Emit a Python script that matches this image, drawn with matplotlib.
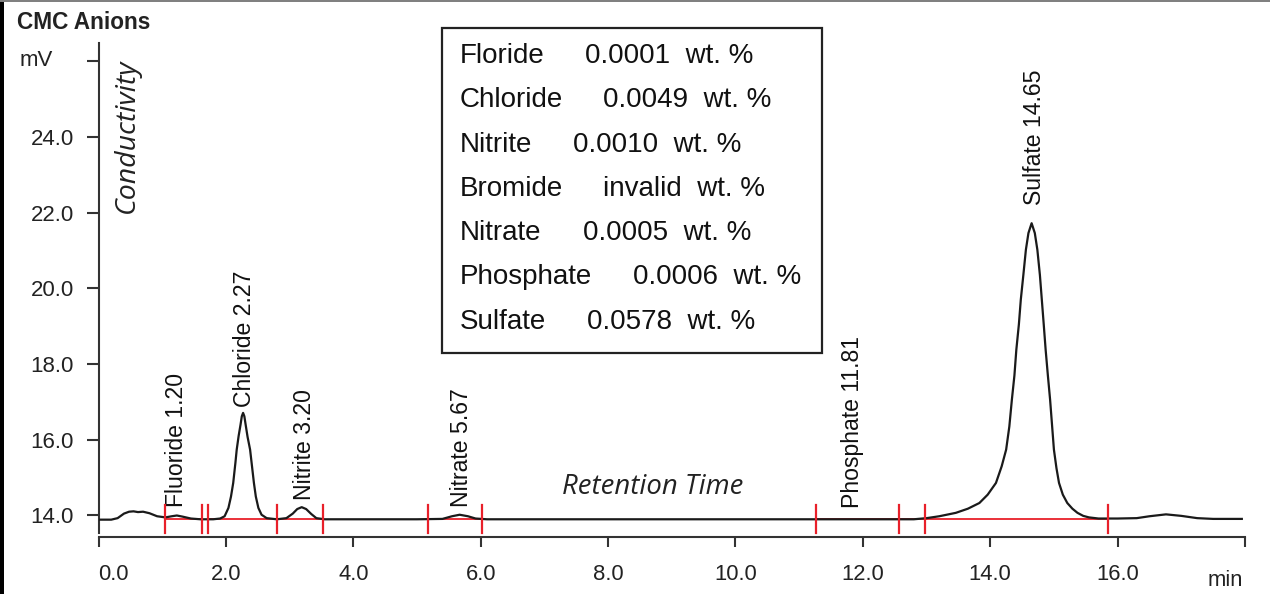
import matplotlib
matplotlib.use('Agg')
import matplotlib.pyplot as plt
from matplotlib.patches import Rectangle

plt.rcParams['font.family'] = ['Liberation Sans', 'DejaVu Sans']

# Chromatogram trace (min, mV)
trace_time = [
    0.00, 0.20, 0.30, 0.40, 0.48, 0.55, 0.62, 0.70, 0.80, 0.92,
    1.05, 1.15, 1.23, 1.32, 1.45, 1.60, 1.80, 1.91, 1.98, 2.04,
    2.08, 2.115, 2.15, 2.17, 2.20, 2.23, 2.25, 2.27, 2.29, 2.31,
    2.34, 2.38, 2.41, 2.44, 2.47, 2.51, 2.56, 2.64, 2.80, 2.95,
    3.05, 3.12, 3.19, 3.26, 3.34, 3.42, 3.55, 5.00, 5.40, 5.55,
    5.67, 5.80, 5.92, 6.10, 12.80, 13.00, 13.20, 13.46, 13.65, 13.83,
    13.96, 14.09, 14.18, 14.25, 14.30, 14.34, 14.38, 14.41, 14.45, 14.48,
    14.52, 14.56, 14.60, 14.65, 14.70, 14.74, 14.78, 14.81, 14.84, 14.87,
    14.905, 14.94, 14.97, 15.00, 15.04, 15.08, 15.14, 15.21, 15.29, 15.37,
    15.46, 15.55, 15.70, 16.00, 16.30, 16.50, 16.76, 17.00, 17.25, 17.50,
    17.95,
]
trace_mv = [
    13.89, 13.89, 13.93, 14.05, 14.10, 14.11, 14.09, 14.10, 14.06, 13.98,
    13.95, 13.98, 14.00, 13.97, 13.92, 13.90, 13.90, 13.92, 13.98, 14.20,
    14.50, 14.86, 15.40, 15.74, 16.10, 16.40, 16.62, 16.71, 16.62, 16.40,
    16.08, 15.74, 15.30, 14.86, 14.50, 14.20, 14.02, 13.93, 13.90, 13.93,
    14.05, 14.17, 14.22, 14.17, 14.04, 13.93, 13.90, 13.90, 13.91, 13.98,
    14.02, 13.98, 13.92, 13.90, 13.90, 13.93, 13.98, 14.07, 14.18, 14.33,
    14.55, 14.86, 15.30, 15.74, 16.35, 17.06, 17.70, 18.38, 19.05, 19.70,
    20.35, 21.02, 21.46, 21.72, 21.46, 21.02, 20.35, 19.70, 19.05, 18.38,
    17.70, 17.06, 16.40, 15.74, 15.25, 14.86, 14.55, 14.33, 14.18, 14.07,
    13.99, 13.95, 13.92, 13.92, 13.93, 13.98, 14.03, 13.99, 13.93, 13.91,
    13.91,
]

# integration baseline marks (red)
mark_times = [1.05, 1.63, 1.72, 2.80, 3.53, 5.18, 6.02, 11.26, 12.56, 12.98, 15.85]
baseline_segments = [(1.05, 1.63), (1.72, 2.80), (2.80, 3.53), (5.18, 6.02),
                     (11.26, 12.56), (12.56, 12.98), (12.98, 15.85)]
baseline_mv = 13.90

# peak labels
peak_labels = ['Fluoride 1.20', 'Chloride 2.27', 'Nitrite 3.20', 'Nitrate 5.67',
               'Phosphate 11.81', 'Sulfate 14.65']
peak_label_x = [1.22, 2.30, 3.24, 5.70, 11.84, 14.70]
peak_label_y = [14.22, 16.87, 14.41, 14.23, 14.20, 22.20]

# results box
box_names = ['Floride', 'Chloride', 'Nitrite', 'Bromide', 'Nitrate', 'Phosphate', 'Sulfate']
box_values = ['0.0001', '0.0049', '0.0010', 'invalid', '0.0005', '0.0006', '0.0578']
box_value_px = [585, 603, 573, 603, 583, 633, 587]

x_ticks = [0, 2, 4, 6, 8, 10, 12, 14, 16, 18]
x_tick_labels = ['0.0', '2.0', '4.0', '6.0', '8.0', '10.0', '12.0', '14.0', '16.0', '']
y_ticks = [14, 16, 18, 20, 22, 24, 26]
y_tick_labels = ['14.0', '16.0', '18.0', '20.0', '22.0', '24.0', '']

W, H = 1270, 594
fig = plt.figure(figsize=(12.7, 5.94), dpi=100)
ax = fig.add_axes([98.5 / W, 57 / H, (1245 - 98.5) / W, 494 / H])

axis_col = '#333333'
ax.plot(trace_time, trace_mv, color='#1a1a1a', lw=1.6, zorder=3,
        solid_joinstyle='round')

for t0, t1 in baseline_segments:
    ax.plot([t0, t1], [baseline_mv, baseline_mv], color='#e8202a', lw=1.3, zorder=2)
for t in mark_times:
    ax.plot([t, t], [13.54, 14.28], color='#e8202a', lw=1.6, zorder=4)

for lab, lx, ly in zip(peak_labels, peak_label_x, peak_label_y):
    ax.text(lx, ly, lab, rotation=90, ha='center', va='bottom', fontsize=16.6, color='#111111')

ax.set_xlim(0, 18)
ax.set_ylim(13.432, 26.48)
ax.set_xticks(x_ticks)
ax.set_xticklabels(x_tick_labels)
ax.set_yticks(y_ticks)
ax.set_yticklabels(y_tick_labels)
ax.xaxis.get_majorticklabels()[0].set_horizontalalignment('left')

for s in ['top', 'right']:
    ax.spines[s].set_visible(False)
for s in ['left', 'bottom']:
    ax.spines[s].set_linewidth(1.5)
    ax.spines[s].set_color(axis_col)
ax.spines['left'].set_bounds(13.55, 26.48)
ax.tick_params(axis='x', direction='out', length=7.5, width=1.5, color=axis_col,
               labelsize=15.8, pad=12, labelcolor='#222222')
ax.tick_params(axis='y', direction='out', length=8.6, width=1.5, color=axis_col,
               labelsize=16, pad=9, labelcolor='#222222')

ax.text(0.45, 24.03, 'Conductivity', rotation=90, ha='center', va='center',
        family='Open Sans', style='italic', fontsize=20.5, color='#222222')
ax.text(8.70, 14.75, 'Retention Time', ha='center', va='center',
        family='Open Sans', style='italic', fontsize=19.8, color='#222222')

fig.text(17 / W, 1 - 22.5 / H, 'CMC Anions', ha='left', va='center',
         fontsize=16.3, fontweight='bold', color='#222222')
fig.text(20 / W, 1 - 61 / H, 'mV', ha='left', va='center', fontsize=16, color='#222222')
fig.text(1243 / W, 1 - 581 / H, 'min', ha='right', va='center', fontsize=15.8, color='#222222')

# results box
fig.add_artist(Rectangle((442 / W, 1 - 353 / H), (822 - 442) / W, (353 - 28) / H,
                         transform=fig.transFigure, fill=False, lw=1.6,
                         edgecolor='#222222'))
for i, (name, val, vx) in enumerate(zip(box_names, box_values, box_value_px)):
    yc = 56 + i * 44.3
    fig.text(460 / W, 1 - yc / H, name, ha='left', va='center', fontsize=20, color='#111111')
    fig.text(vx / W, 1 - yc / H, val + '  wt. %', ha='left', va='center',
             fontsize=20, color='#111111')

# scan border remnants
fig.add_artist(Rectangle((0, 0), 4 / W, 1, transform=fig.transFigure,
                         color='black', lw=0))
fig.add_artist(Rectangle((0, 1 - 2 / H), 1, 2 / H, transform=fig.transFigure,
                         color='#808080', lw=0))

fig.savefig('out.png', dpi=100)
